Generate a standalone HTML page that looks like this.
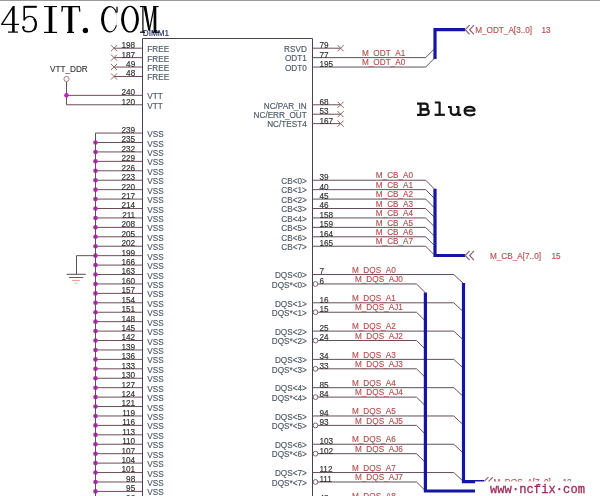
<!DOCTYPE html>
<html><head><meta charset="utf-8"><style>
html,body{margin:0;padding:0;background:#fff;}
body{width:600px;height:496px;overflow:hidden;position:relative;}
svg{position:absolute;left:0;top:0;font-family:"Liberation Sans",sans-serif;will-change:transform;}
.wmt{position:absolute;left:490px;top:483px;font-family:"Liberation Mono",monospace;font-weight:normal;font-size:12.1px;line-height:14px;color:#a02c5c;-webkit-text-stroke:0.3px #a02c5c;letter-spacing:0.05px;}
</style></head><body>
<svg width="600" height="496" viewBox="0 0 600 496">
<rect x="0" y="0" width="600" height="1" fill="#9a9a9a"/>
<line x1="114.00" y1="48.20" x2="142.50" y2="48.20" stroke="#6e4c5a" stroke-width="1"/>
<line x1="110.90" y1="45.10" x2="117.10" y2="51.30" stroke="#8a6868" stroke-width="1"/>
<line x1="110.90" y1="51.30" x2="117.10" y2="45.10" stroke="#8a6868" stroke-width="1"/>
<text x="135.20" y="48.10" fill="#303030" stroke="#303030" stroke-width="0.15" font-size="8.2" text-anchor="end" >198</text>
<text x="147.30" y="52.20" fill="#4e5866" stroke="#4e5866" stroke-width="0.15" font-size="8.2" text-anchor="start" >FREE</text>
<line x1="114.00" y1="57.63" x2="142.50" y2="57.63" stroke="#6e4c5a" stroke-width="1"/>
<line x1="110.90" y1="54.53" x2="117.10" y2="60.73" stroke="#8a6868" stroke-width="1"/>
<line x1="110.90" y1="60.73" x2="117.10" y2="54.53" stroke="#8a6868" stroke-width="1"/>
<text x="135.20" y="57.53" fill="#303030" stroke="#303030" stroke-width="0.15" font-size="8.2" text-anchor="end" >187</text>
<text x="147.30" y="61.63" fill="#4e5866" stroke="#4e5866" stroke-width="0.15" font-size="8.2" text-anchor="start" >FREE</text>
<line x1="114.00" y1="67.06" x2="142.50" y2="67.06" stroke="#6e4c5a" stroke-width="1"/>
<line x1="110.90" y1="63.96" x2="117.10" y2="70.16" stroke="#8a6868" stroke-width="1"/>
<line x1="110.90" y1="70.16" x2="117.10" y2="63.96" stroke="#8a6868" stroke-width="1"/>
<text x="135.20" y="66.96" fill="#303030" stroke="#303030" stroke-width="0.15" font-size="8.2" text-anchor="end" >49</text>
<text x="147.30" y="71.06" fill="#4e5866" stroke="#4e5866" stroke-width="0.15" font-size="8.2" text-anchor="start" >FREE</text>
<line x1="114.00" y1="76.49" x2="142.50" y2="76.49" stroke="#6e4c5a" stroke-width="1"/>
<line x1="110.90" y1="73.39" x2="117.10" y2="79.59" stroke="#8a6868" stroke-width="1"/>
<line x1="110.90" y1="79.59" x2="117.10" y2="73.39" stroke="#8a6868" stroke-width="1"/>
<text x="135.20" y="76.39" fill="#303030" stroke="#303030" stroke-width="0.15" font-size="8.2" text-anchor="end" >48</text>
<text x="147.30" y="80.49" fill="#4e5866" stroke="#4e5866" stroke-width="0.15" font-size="8.2" text-anchor="start" >FREE</text>
<line x1="66.50" y1="95.35" x2="142.50" y2="95.35" stroke="#6e4c5a" stroke-width="1"/>
<text x="135.20" y="95.25" fill="#303030" stroke="#303030" stroke-width="0.15" font-size="8.2" text-anchor="end" >240</text>
<text x="147.30" y="99.35" fill="#4e5866" stroke="#4e5866" stroke-width="0.15" font-size="8.2" text-anchor="start" >VTT</text>
<line x1="66.50" y1="104.78" x2="142.50" y2="104.78" stroke="#6e4c5a" stroke-width="1"/>
<text x="135.20" y="104.68" fill="#303030" stroke="#303030" stroke-width="0.15" font-size="8.2" text-anchor="end" >120</text>
<text x="147.30" y="108.78" fill="#4e5866" stroke="#4e5866" stroke-width="0.15" font-size="8.2" text-anchor="start" >VTT</text>
<line x1="95.50" y1="133.07" x2="142.50" y2="133.07" stroke="#6e4c5a" stroke-width="1"/>
<text x="135.20" y="132.97" fill="#303030" stroke="#303030" stroke-width="0.15" font-size="8.2" text-anchor="end" >239</text>
<text x="147.30" y="137.07" fill="#4e5866" stroke="#4e5866" stroke-width="0.15" font-size="8.2" text-anchor="start" >VSS</text>
<line x1="95.50" y1="142.50" x2="142.50" y2="142.50" stroke="#6e4c5a" stroke-width="1"/>
<circle cx="95.50" cy="142.50" r="2.3" fill="#c020c4"/>
<text x="135.20" y="142.40" fill="#303030" stroke="#303030" stroke-width="0.15" font-size="8.2" text-anchor="end" >235</text>
<text x="147.30" y="146.50" fill="#4e5866" stroke="#4e5866" stroke-width="0.15" font-size="8.2" text-anchor="start" >VSS</text>
<line x1="95.50" y1="151.93" x2="142.50" y2="151.93" stroke="#6e4c5a" stroke-width="1"/>
<circle cx="95.50" cy="151.93" r="2.3" fill="#c020c4"/>
<text x="135.20" y="151.83" fill="#303030" stroke="#303030" stroke-width="0.15" font-size="8.2" text-anchor="end" >232</text>
<text x="147.30" y="155.93" fill="#4e5866" stroke="#4e5866" stroke-width="0.15" font-size="8.2" text-anchor="start" >VSS</text>
<line x1="95.50" y1="161.36" x2="142.50" y2="161.36" stroke="#6e4c5a" stroke-width="1"/>
<circle cx="95.50" cy="161.36" r="2.3" fill="#c020c4"/>
<text x="135.20" y="161.26" fill="#303030" stroke="#303030" stroke-width="0.15" font-size="8.2" text-anchor="end" >229</text>
<text x="147.30" y="165.36" fill="#4e5866" stroke="#4e5866" stroke-width="0.15" font-size="8.2" text-anchor="start" >VSS</text>
<line x1="95.50" y1="170.79" x2="142.50" y2="170.79" stroke="#6e4c5a" stroke-width="1"/>
<circle cx="95.50" cy="170.79" r="2.3" fill="#c020c4"/>
<text x="135.20" y="170.69" fill="#303030" stroke="#303030" stroke-width="0.15" font-size="8.2" text-anchor="end" >226</text>
<text x="147.30" y="174.79" fill="#4e5866" stroke="#4e5866" stroke-width="0.15" font-size="8.2" text-anchor="start" >VSS</text>
<line x1="95.50" y1="180.22" x2="142.50" y2="180.22" stroke="#6e4c5a" stroke-width="1"/>
<circle cx="95.50" cy="180.22" r="2.3" fill="#c020c4"/>
<text x="135.20" y="180.12" fill="#303030" stroke="#303030" stroke-width="0.15" font-size="8.2" text-anchor="end" >223</text>
<text x="147.30" y="184.22" fill="#4e5866" stroke="#4e5866" stroke-width="0.15" font-size="8.2" text-anchor="start" >VSS</text>
<line x1="95.50" y1="189.65" x2="142.50" y2="189.65" stroke="#6e4c5a" stroke-width="1"/>
<circle cx="95.50" cy="189.65" r="2.3" fill="#c020c4"/>
<text x="135.20" y="189.55" fill="#303030" stroke="#303030" stroke-width="0.15" font-size="8.2" text-anchor="end" >220</text>
<text x="147.30" y="193.65" fill="#4e5866" stroke="#4e5866" stroke-width="0.15" font-size="8.2" text-anchor="start" >VSS</text>
<line x1="95.50" y1="199.08" x2="142.50" y2="199.08" stroke="#6e4c5a" stroke-width="1"/>
<circle cx="95.50" cy="199.08" r="2.3" fill="#c020c4"/>
<text x="135.20" y="198.98" fill="#303030" stroke="#303030" stroke-width="0.15" font-size="8.2" text-anchor="end" >217</text>
<text x="147.30" y="203.08" fill="#4e5866" stroke="#4e5866" stroke-width="0.15" font-size="8.2" text-anchor="start" >VSS</text>
<line x1="95.50" y1="208.51" x2="142.50" y2="208.51" stroke="#6e4c5a" stroke-width="1"/>
<circle cx="95.50" cy="208.51" r="2.3" fill="#c020c4"/>
<text x="135.20" y="208.41" fill="#303030" stroke="#303030" stroke-width="0.15" font-size="8.2" text-anchor="end" >214</text>
<text x="147.30" y="212.51" fill="#4e5866" stroke="#4e5866" stroke-width="0.15" font-size="8.2" text-anchor="start" >VSS</text>
<line x1="95.50" y1="217.94" x2="142.50" y2="217.94" stroke="#6e4c5a" stroke-width="1"/>
<circle cx="95.50" cy="217.94" r="2.3" fill="#c020c4"/>
<text x="135.20" y="217.84" fill="#303030" stroke="#303030" stroke-width="0.15" font-size="8.2" text-anchor="end" >211</text>
<text x="147.30" y="221.94" fill="#4e5866" stroke="#4e5866" stroke-width="0.15" font-size="8.2" text-anchor="start" >VSS</text>
<line x1="95.50" y1="227.37" x2="142.50" y2="227.37" stroke="#6e4c5a" stroke-width="1"/>
<circle cx="95.50" cy="227.37" r="2.3" fill="#c020c4"/>
<text x="135.20" y="227.27" fill="#303030" stroke="#303030" stroke-width="0.15" font-size="8.2" text-anchor="end" >208</text>
<text x="147.30" y="231.37" fill="#4e5866" stroke="#4e5866" stroke-width="0.15" font-size="8.2" text-anchor="start" >VSS</text>
<line x1="95.50" y1="236.80" x2="142.50" y2="236.80" stroke="#6e4c5a" stroke-width="1"/>
<circle cx="95.50" cy="236.80" r="2.3" fill="#c020c4"/>
<text x="135.20" y="236.70" fill="#303030" stroke="#303030" stroke-width="0.15" font-size="8.2" text-anchor="end" >205</text>
<text x="147.30" y="240.80" fill="#4e5866" stroke="#4e5866" stroke-width="0.15" font-size="8.2" text-anchor="start" >VSS</text>
<line x1="95.50" y1="246.23" x2="142.50" y2="246.23" stroke="#6e4c5a" stroke-width="1"/>
<circle cx="95.50" cy="246.23" r="2.3" fill="#c020c4"/>
<text x="135.20" y="246.13" fill="#303030" stroke="#303030" stroke-width="0.15" font-size="8.2" text-anchor="end" >202</text>
<text x="147.30" y="250.23" fill="#4e5866" stroke="#4e5866" stroke-width="0.15" font-size="8.2" text-anchor="start" >VSS</text>
<line x1="95.50" y1="255.66" x2="142.50" y2="255.66" stroke="#6e4c5a" stroke-width="1"/>
<circle cx="95.50" cy="255.66" r="2.3" fill="#c020c4"/>
<text x="135.20" y="255.56" fill="#303030" stroke="#303030" stroke-width="0.15" font-size="8.2" text-anchor="end" >199</text>
<text x="147.30" y="259.66" fill="#4e5866" stroke="#4e5866" stroke-width="0.15" font-size="8.2" text-anchor="start" >VSS</text>
<line x1="95.50" y1="265.09" x2="142.50" y2="265.09" stroke="#6e4c5a" stroke-width="1"/>
<circle cx="95.50" cy="265.09" r="2.3" fill="#c020c4"/>
<text x="135.20" y="264.99" fill="#303030" stroke="#303030" stroke-width="0.15" font-size="8.2" text-anchor="end" >166</text>
<text x="147.30" y="269.09" fill="#4e5866" stroke="#4e5866" stroke-width="0.15" font-size="8.2" text-anchor="start" >VSS</text>
<line x1="95.50" y1="274.52" x2="142.50" y2="274.52" stroke="#6e4c5a" stroke-width="1"/>
<circle cx="95.50" cy="274.52" r="2.3" fill="#c020c4"/>
<text x="135.20" y="274.42" fill="#303030" stroke="#303030" stroke-width="0.15" font-size="8.2" text-anchor="end" >163</text>
<text x="147.30" y="278.52" fill="#4e5866" stroke="#4e5866" stroke-width="0.15" font-size="8.2" text-anchor="start" >VSS</text>
<line x1="95.50" y1="283.95" x2="142.50" y2="283.95" stroke="#6e4c5a" stroke-width="1"/>
<circle cx="95.50" cy="283.95" r="2.3" fill="#c020c4"/>
<text x="135.20" y="283.85" fill="#303030" stroke="#303030" stroke-width="0.15" font-size="8.2" text-anchor="end" >160</text>
<text x="147.30" y="287.95" fill="#4e5866" stroke="#4e5866" stroke-width="0.15" font-size="8.2" text-anchor="start" >VSS</text>
<line x1="95.50" y1="293.38" x2="142.50" y2="293.38" stroke="#6e4c5a" stroke-width="1"/>
<circle cx="95.50" cy="293.38" r="2.3" fill="#c020c4"/>
<text x="135.20" y="293.28" fill="#303030" stroke="#303030" stroke-width="0.15" font-size="8.2" text-anchor="end" >157</text>
<text x="147.30" y="297.38" fill="#4e5866" stroke="#4e5866" stroke-width="0.15" font-size="8.2" text-anchor="start" >VSS</text>
<line x1="95.50" y1="302.81" x2="142.50" y2="302.81" stroke="#6e4c5a" stroke-width="1"/>
<circle cx="95.50" cy="302.81" r="2.3" fill="#c020c4"/>
<text x="135.20" y="302.71" fill="#303030" stroke="#303030" stroke-width="0.15" font-size="8.2" text-anchor="end" >154</text>
<text x="147.30" y="306.81" fill="#4e5866" stroke="#4e5866" stroke-width="0.15" font-size="8.2" text-anchor="start" >VSS</text>
<line x1="95.50" y1="312.24" x2="142.50" y2="312.24" stroke="#6e4c5a" stroke-width="1"/>
<circle cx="95.50" cy="312.24" r="2.3" fill="#c020c4"/>
<text x="135.20" y="312.14" fill="#303030" stroke="#303030" stroke-width="0.15" font-size="8.2" text-anchor="end" >151</text>
<text x="147.30" y="316.24" fill="#4e5866" stroke="#4e5866" stroke-width="0.15" font-size="8.2" text-anchor="start" >VSS</text>
<line x1="95.50" y1="321.67" x2="142.50" y2="321.67" stroke="#6e4c5a" stroke-width="1"/>
<circle cx="95.50" cy="321.67" r="2.3" fill="#c020c4"/>
<text x="135.20" y="321.57" fill="#303030" stroke="#303030" stroke-width="0.15" font-size="8.2" text-anchor="end" >148</text>
<text x="147.30" y="325.67" fill="#4e5866" stroke="#4e5866" stroke-width="0.15" font-size="8.2" text-anchor="start" >VSS</text>
<line x1="95.50" y1="331.10" x2="142.50" y2="331.10" stroke="#6e4c5a" stroke-width="1"/>
<circle cx="95.50" cy="331.10" r="2.3" fill="#c020c4"/>
<text x="135.20" y="331.00" fill="#303030" stroke="#303030" stroke-width="0.15" font-size="8.2" text-anchor="end" >145</text>
<text x="147.30" y="335.10" fill="#4e5866" stroke="#4e5866" stroke-width="0.15" font-size="8.2" text-anchor="start" >VSS</text>
<line x1="95.50" y1="340.53" x2="142.50" y2="340.53" stroke="#6e4c5a" stroke-width="1"/>
<circle cx="95.50" cy="340.53" r="2.3" fill="#c020c4"/>
<text x="135.20" y="340.43" fill="#303030" stroke="#303030" stroke-width="0.15" font-size="8.2" text-anchor="end" >142</text>
<text x="147.30" y="344.53" fill="#4e5866" stroke="#4e5866" stroke-width="0.15" font-size="8.2" text-anchor="start" >VSS</text>
<line x1="95.50" y1="349.96" x2="142.50" y2="349.96" stroke="#6e4c5a" stroke-width="1"/>
<circle cx="95.50" cy="349.96" r="2.3" fill="#c020c4"/>
<text x="135.20" y="349.86" fill="#303030" stroke="#303030" stroke-width="0.15" font-size="8.2" text-anchor="end" >139</text>
<text x="147.30" y="353.96" fill="#4e5866" stroke="#4e5866" stroke-width="0.15" font-size="8.2" text-anchor="start" >VSS</text>
<line x1="95.50" y1="359.39" x2="142.50" y2="359.39" stroke="#6e4c5a" stroke-width="1"/>
<circle cx="95.50" cy="359.39" r="2.3" fill="#c020c4"/>
<text x="135.20" y="359.29" fill="#303030" stroke="#303030" stroke-width="0.15" font-size="8.2" text-anchor="end" >136</text>
<text x="147.30" y="363.39" fill="#4e5866" stroke="#4e5866" stroke-width="0.15" font-size="8.2" text-anchor="start" >VSS</text>
<line x1="95.50" y1="368.82" x2="142.50" y2="368.82" stroke="#6e4c5a" stroke-width="1"/>
<circle cx="95.50" cy="368.82" r="2.3" fill="#c020c4"/>
<text x="135.20" y="368.72" fill="#303030" stroke="#303030" stroke-width="0.15" font-size="8.2" text-anchor="end" >133</text>
<text x="147.30" y="372.82" fill="#4e5866" stroke="#4e5866" stroke-width="0.15" font-size="8.2" text-anchor="start" >VSS</text>
<line x1="95.50" y1="378.25" x2="142.50" y2="378.25" stroke="#6e4c5a" stroke-width="1"/>
<circle cx="95.50" cy="378.25" r="2.3" fill="#c020c4"/>
<text x="135.20" y="378.15" fill="#303030" stroke="#303030" stroke-width="0.15" font-size="8.2" text-anchor="end" >130</text>
<text x="147.30" y="382.25" fill="#4e5866" stroke="#4e5866" stroke-width="0.15" font-size="8.2" text-anchor="start" >VSS</text>
<line x1="95.50" y1="387.68" x2="142.50" y2="387.68" stroke="#6e4c5a" stroke-width="1"/>
<circle cx="95.50" cy="387.68" r="2.3" fill="#c020c4"/>
<text x="135.20" y="387.58" fill="#303030" stroke="#303030" stroke-width="0.15" font-size="8.2" text-anchor="end" >127</text>
<text x="147.30" y="391.68" fill="#4e5866" stroke="#4e5866" stroke-width="0.15" font-size="8.2" text-anchor="start" >VSS</text>
<line x1="95.50" y1="397.11" x2="142.50" y2="397.11" stroke="#6e4c5a" stroke-width="1"/>
<circle cx="95.50" cy="397.11" r="2.3" fill="#c020c4"/>
<text x="135.20" y="397.01" fill="#303030" stroke="#303030" stroke-width="0.15" font-size="8.2" text-anchor="end" >124</text>
<text x="147.30" y="401.11" fill="#4e5866" stroke="#4e5866" stroke-width="0.15" font-size="8.2" text-anchor="start" >VSS</text>
<line x1="95.50" y1="406.54" x2="142.50" y2="406.54" stroke="#6e4c5a" stroke-width="1"/>
<circle cx="95.50" cy="406.54" r="2.3" fill="#c020c4"/>
<text x="135.20" y="406.44" fill="#303030" stroke="#303030" stroke-width="0.15" font-size="8.2" text-anchor="end" >121</text>
<text x="147.30" y="410.54" fill="#4e5866" stroke="#4e5866" stroke-width="0.15" font-size="8.2" text-anchor="start" >VSS</text>
<line x1="95.50" y1="415.97" x2="142.50" y2="415.97" stroke="#6e4c5a" stroke-width="1"/>
<circle cx="95.50" cy="415.97" r="2.3" fill="#c020c4"/>
<text x="135.20" y="415.87" fill="#303030" stroke="#303030" stroke-width="0.15" font-size="8.2" text-anchor="end" >119</text>
<text x="147.30" y="419.97" fill="#4e5866" stroke="#4e5866" stroke-width="0.15" font-size="8.2" text-anchor="start" >VSS</text>
<line x1="95.50" y1="425.40" x2="142.50" y2="425.40" stroke="#6e4c5a" stroke-width="1"/>
<circle cx="95.50" cy="425.40" r="2.3" fill="#c020c4"/>
<text x="135.20" y="425.30" fill="#303030" stroke="#303030" stroke-width="0.15" font-size="8.2" text-anchor="end" >116</text>
<text x="147.30" y="429.40" fill="#4e5866" stroke="#4e5866" stroke-width="0.15" font-size="8.2" text-anchor="start" >VSS</text>
<line x1="95.50" y1="434.83" x2="142.50" y2="434.83" stroke="#6e4c5a" stroke-width="1"/>
<circle cx="95.50" cy="434.83" r="2.3" fill="#c020c4"/>
<text x="135.20" y="434.73" fill="#303030" stroke="#303030" stroke-width="0.15" font-size="8.2" text-anchor="end" >113</text>
<text x="147.30" y="438.83" fill="#4e5866" stroke="#4e5866" stroke-width="0.15" font-size="8.2" text-anchor="start" >VSS</text>
<line x1="95.50" y1="444.26" x2="142.50" y2="444.26" stroke="#6e4c5a" stroke-width="1"/>
<circle cx="95.50" cy="444.26" r="2.3" fill="#c020c4"/>
<text x="135.20" y="444.16" fill="#303030" stroke="#303030" stroke-width="0.15" font-size="8.2" text-anchor="end" >110</text>
<text x="147.30" y="448.26" fill="#4e5866" stroke="#4e5866" stroke-width="0.15" font-size="8.2" text-anchor="start" >VSS</text>
<line x1="95.50" y1="453.69" x2="142.50" y2="453.69" stroke="#6e4c5a" stroke-width="1"/>
<circle cx="95.50" cy="453.69" r="2.3" fill="#c020c4"/>
<text x="135.20" y="453.59" fill="#303030" stroke="#303030" stroke-width="0.15" font-size="8.2" text-anchor="end" >107</text>
<text x="147.30" y="457.69" fill="#4e5866" stroke="#4e5866" stroke-width="0.15" font-size="8.2" text-anchor="start" >VSS</text>
<line x1="95.50" y1="463.12" x2="142.50" y2="463.12" stroke="#6e4c5a" stroke-width="1"/>
<circle cx="95.50" cy="463.12" r="2.3" fill="#c020c4"/>
<text x="135.20" y="463.02" fill="#303030" stroke="#303030" stroke-width="0.15" font-size="8.2" text-anchor="end" >104</text>
<text x="147.30" y="467.12" fill="#4e5866" stroke="#4e5866" stroke-width="0.15" font-size="8.2" text-anchor="start" >VSS</text>
<line x1="95.50" y1="472.55" x2="142.50" y2="472.55" stroke="#6e4c5a" stroke-width="1"/>
<circle cx="95.50" cy="472.55" r="2.3" fill="#c020c4"/>
<text x="135.20" y="472.45" fill="#303030" stroke="#303030" stroke-width="0.15" font-size="8.2" text-anchor="end" >101</text>
<text x="147.30" y="476.55" fill="#4e5866" stroke="#4e5866" stroke-width="0.15" font-size="8.2" text-anchor="start" >VSS</text>
<line x1="95.50" y1="481.98" x2="142.50" y2="481.98" stroke="#6e4c5a" stroke-width="1"/>
<circle cx="95.50" cy="481.98" r="2.3" fill="#c020c4"/>
<text x="135.20" y="481.88" fill="#303030" stroke="#303030" stroke-width="0.15" font-size="8.2" text-anchor="end" >98</text>
<text x="147.30" y="485.98" fill="#4e5866" stroke="#4e5866" stroke-width="0.15" font-size="8.2" text-anchor="start" >VSS</text>
<line x1="95.50" y1="491.41" x2="142.50" y2="491.41" stroke="#6e4c5a" stroke-width="1"/>
<circle cx="95.50" cy="491.41" r="2.3" fill="#c020c4"/>
<text x="135.20" y="491.31" fill="#303030" stroke="#303030" stroke-width="0.15" font-size="8.2" text-anchor="end" >95</text>
<text x="147.30" y="495.41" fill="#4e5866" stroke="#4e5866" stroke-width="0.15" font-size="8.2" text-anchor="start" >VSS</text>
<line x1="95.50" y1="500.84" x2="142.50" y2="500.84" stroke="#6e4c5a" stroke-width="1"/>
<circle cx="95.50" cy="500.84" r="2.3" fill="#c020c4"/>
<text x="135.20" y="500.74" fill="#303030" stroke="#303030" stroke-width="0.15" font-size="8.2" text-anchor="end" >92</text>
<text x="147.30" y="504.84" fill="#4e5866" stroke="#4e5866" stroke-width="0.15" font-size="8.2" text-anchor="start" >VSS</text>
<line x1="95.50" y1="133.07" x2="95.50" y2="500.00" stroke="#644c5a" stroke-width="1"/>
<polyline points="95.50,255.66 76.50,255.66 76.50,274.30" fill="none" stroke="#644c5a" stroke-width="1" stroke-linejoin="miter"/>
<line x1="66.60" y1="274.30" x2="85.80" y2="274.30" stroke="#5a4a4a" stroke-width="1"/>
<line x1="69.00" y1="277.50" x2="83.30" y2="277.50" stroke="#6a5a5a" stroke-width="1"/>
<line x1="72.00" y1="280.40" x2="79.80" y2="280.40" stroke="#d0a080" stroke-width="1"/>
<line x1="74.50" y1="283.20" x2="77.50" y2="283.20" stroke="#e0c0a8" stroke-width="1"/>
<line x1="66.50" y1="81.70" x2="66.50" y2="104.78" stroke="#644c5a" stroke-width="1"/>
<circle cx="66.50" cy="95.35" r="2.3" fill="#c020c4"/>
<circle cx="66.5" cy="79.0" r="2.6" fill="none" stroke="#a07070" stroke-width="0.9"/>
<text x="50.00" y="72.40" fill="#3c3c3c" stroke="#3c3c3c" stroke-width="0.15" font-size="8.2" text-anchor="start" >VTT_DDR</text>
<path d="M142.5,500 V38.5 H312.5 V500" fill="none" stroke="#46424e" stroke-width="1"/>
<text x="142.80" y="36.40" fill="#2a3070" stroke="#2a3070" stroke-width="0.15" font-size="8.2" text-anchor="start" >DIMM1</text>
<line x1="312.50" y1="48.20" x2="340.60" y2="48.20" stroke="#6e4c5a" stroke-width="1"/>
<line x1="337.50" y1="45.10" x2="343.70" y2="51.30" stroke="#8a6868" stroke-width="1"/>
<line x1="337.50" y1="51.30" x2="343.70" y2="45.10" stroke="#8a6868" stroke-width="1"/>
<text x="319.40" y="48.10" fill="#303030" stroke="#303030" stroke-width="0.15" font-size="8.2" text-anchor="start" >79</text>
<text x="306.80" y="52.00" fill="#4e5866" stroke="#4e5866" stroke-width="0.15" font-size="8.2" text-anchor="end" >RSVD</text>
<polyline points="312.50,57.63 425.70,57.63 434.20,49.03" fill="none" stroke="#644c5a" stroke-width="1" stroke-linejoin="miter"/>
<text x="319.40" y="57.53" fill="#303030" stroke="#303030" stroke-width="0.15" font-size="8.2" text-anchor="start" >77</text>
<text x="306.80" y="61.43" fill="#4e5866" stroke="#4e5866" stroke-width="0.15" font-size="8.2" text-anchor="end" >ODT1</text>
<text x="362.00" y="55.83" fill="#b45050" stroke="#b45050" stroke-width="0.15" font-size="8.2" text-anchor="start" >M_ODT_A1</text>
<polyline points="312.50,67.06 425.70,67.06 434.20,58.46" fill="none" stroke="#644c5a" stroke-width="1" stroke-linejoin="miter"/>
<text x="319.40" y="66.96" fill="#303030" stroke="#303030" stroke-width="0.15" font-size="8.2" text-anchor="start" >195</text>
<text x="306.80" y="70.86" fill="#4e5866" stroke="#4e5866" stroke-width="0.15" font-size="8.2" text-anchor="end" >ODT0</text>
<text x="362.00" y="65.26" fill="#b45050" stroke="#b45050" stroke-width="0.15" font-size="8.2" text-anchor="start" >M_ODT_A0</text>
<line x1="312.50" y1="104.78" x2="340.60" y2="104.78" stroke="#6e4c5a" stroke-width="1"/>
<line x1="337.50" y1="101.68" x2="343.70" y2="107.88" stroke="#8a6868" stroke-width="1"/>
<line x1="337.50" y1="107.88" x2="343.70" y2="101.68" stroke="#8a6868" stroke-width="1"/>
<text x="319.40" y="104.68" fill="#303030" stroke="#303030" stroke-width="0.15" font-size="8.2" text-anchor="start" >68</text>
<text x="306.80" y="108.58" fill="#4e5866" stroke="#4e5866" stroke-width="0.15" font-size="8.2" text-anchor="end" >NC/PAR_IN</text>
<line x1="312.50" y1="114.21" x2="340.60" y2="114.21" stroke="#6e4c5a" stroke-width="1"/>
<line x1="337.50" y1="111.11" x2="343.70" y2="117.31" stroke="#8a6868" stroke-width="1"/>
<line x1="337.50" y1="117.31" x2="343.70" y2="111.11" stroke="#8a6868" stroke-width="1"/>
<text x="319.40" y="114.11" fill="#303030" stroke="#303030" stroke-width="0.15" font-size="8.2" text-anchor="start" >53</text>
<text x="306.80" y="118.01" fill="#4e5866" stroke="#4e5866" stroke-width="0.15" font-size="8.2" text-anchor="end" >NC/ERR_OUT</text>
<line x1="312.50" y1="123.64" x2="340.60" y2="123.64" stroke="#6e4c5a" stroke-width="1"/>
<line x1="337.50" y1="120.54" x2="343.70" y2="126.74" stroke="#8a6868" stroke-width="1"/>
<line x1="337.50" y1="126.74" x2="343.70" y2="120.54" stroke="#8a6868" stroke-width="1"/>
<text x="319.40" y="123.54" fill="#303030" stroke="#303030" stroke-width="0.15" font-size="8.2" text-anchor="start" >167</text>
<text x="306.80" y="127.44" fill="#4e5866" stroke="#4e5866" stroke-width="0.15" font-size="8.2" text-anchor="end" >NC/TEST4</text>
<polyline points="312.50,180.22 425.70,180.22 434.20,188.82" fill="none" stroke="#644c5a" stroke-width="1" stroke-linejoin="miter"/>
<text x="319.40" y="180.12" fill="#303030" stroke="#303030" stroke-width="0.15" font-size="8.2" text-anchor="start" >39</text>
<text x="306.80" y="184.02" fill="#4e5866" stroke="#4e5866" stroke-width="0.15" font-size="8.2" text-anchor="end" >CB&lt;0&gt;</text>
<text x="375.80" y="178.42" fill="#b45050" stroke="#b45050" stroke-width="0.15" font-size="8.2" text-anchor="start" >M_CB_A0</text>
<polyline points="312.50,189.65 425.70,189.65 434.20,198.25" fill="none" stroke="#644c5a" stroke-width="1" stroke-linejoin="miter"/>
<text x="319.40" y="189.55" fill="#303030" stroke="#303030" stroke-width="0.15" font-size="8.2" text-anchor="start" >40</text>
<text x="306.80" y="193.45" fill="#4e5866" stroke="#4e5866" stroke-width="0.15" font-size="8.2" text-anchor="end" >CB&lt;1&gt;</text>
<text x="375.80" y="187.85" fill="#b45050" stroke="#b45050" stroke-width="0.15" font-size="8.2" text-anchor="start" >M_CB_A1</text>
<polyline points="312.50,199.08 425.70,199.08 434.20,207.68" fill="none" stroke="#644c5a" stroke-width="1" stroke-linejoin="miter"/>
<text x="319.40" y="198.98" fill="#303030" stroke="#303030" stroke-width="0.15" font-size="8.2" text-anchor="start" >45</text>
<text x="306.80" y="202.88" fill="#4e5866" stroke="#4e5866" stroke-width="0.15" font-size="8.2" text-anchor="end" >CB&lt;2&gt;</text>
<text x="375.80" y="197.28" fill="#b45050" stroke="#b45050" stroke-width="0.15" font-size="8.2" text-anchor="start" >M_CB_A2</text>
<polyline points="312.50,208.51 425.70,208.51 434.20,217.11" fill="none" stroke="#644c5a" stroke-width="1" stroke-linejoin="miter"/>
<text x="319.40" y="208.41" fill="#303030" stroke="#303030" stroke-width="0.15" font-size="8.2" text-anchor="start" >46</text>
<text x="306.80" y="212.31" fill="#4e5866" stroke="#4e5866" stroke-width="0.15" font-size="8.2" text-anchor="end" >CB&lt;3&gt;</text>
<text x="375.80" y="206.71" fill="#b45050" stroke="#b45050" stroke-width="0.15" font-size="8.2" text-anchor="start" >M_CB_A3</text>
<polyline points="312.50,217.94 425.70,217.94 434.20,226.54" fill="none" stroke="#644c5a" stroke-width="1" stroke-linejoin="miter"/>
<text x="319.40" y="217.84" fill="#303030" stroke="#303030" stroke-width="0.15" font-size="8.2" text-anchor="start" >158</text>
<text x="306.80" y="221.74" fill="#4e5866" stroke="#4e5866" stroke-width="0.15" font-size="8.2" text-anchor="end" >CB&lt;4&gt;</text>
<text x="375.80" y="216.14" fill="#b45050" stroke="#b45050" stroke-width="0.15" font-size="8.2" text-anchor="start" >M_CB_A4</text>
<polyline points="312.50,227.37 425.70,227.37 434.20,235.97" fill="none" stroke="#644c5a" stroke-width="1" stroke-linejoin="miter"/>
<text x="319.40" y="227.27" fill="#303030" stroke="#303030" stroke-width="0.15" font-size="8.2" text-anchor="start" >159</text>
<text x="306.80" y="231.17" fill="#4e5866" stroke="#4e5866" stroke-width="0.15" font-size="8.2" text-anchor="end" >CB&lt;5&gt;</text>
<text x="375.80" y="225.57" fill="#b45050" stroke="#b45050" stroke-width="0.15" font-size="8.2" text-anchor="start" >M_CB_A5</text>
<polyline points="312.50,236.80 425.70,236.80 434.20,245.40" fill="none" stroke="#644c5a" stroke-width="1" stroke-linejoin="miter"/>
<text x="319.40" y="236.70" fill="#303030" stroke="#303030" stroke-width="0.15" font-size="8.2" text-anchor="start" >164</text>
<text x="306.80" y="240.60" fill="#4e5866" stroke="#4e5866" stroke-width="0.15" font-size="8.2" text-anchor="end" >CB&lt;6&gt;</text>
<text x="375.80" y="235.00" fill="#b45050" stroke="#b45050" stroke-width="0.15" font-size="8.2" text-anchor="start" >M_CB_A6</text>
<polyline points="312.50,246.23 425.70,246.23 434.20,254.83" fill="none" stroke="#644c5a" stroke-width="1" stroke-linejoin="miter"/>
<text x="319.40" y="246.13" fill="#303030" stroke="#303030" stroke-width="0.15" font-size="8.2" text-anchor="start" >165</text>
<text x="306.80" y="250.03" fill="#4e5866" stroke="#4e5866" stroke-width="0.15" font-size="8.2" text-anchor="end" >CB&lt;7&gt;</text>
<text x="375.80" y="244.43" fill="#b45050" stroke="#b45050" stroke-width="0.15" font-size="8.2" text-anchor="start" >M_CB_A7</text>
<polyline points="312.50,274.52 453.80,274.52 463.00,283.12" fill="none" stroke="#644c5a" stroke-width="1" stroke-linejoin="miter"/>
<text x="319.40" y="274.42" fill="#303030" stroke="#303030" stroke-width="0.15" font-size="8.2" text-anchor="start" >7</text>
<text x="306.80" y="278.32" fill="#4e5866" stroke="#4e5866" stroke-width="0.15" font-size="8.2" text-anchor="end" >DQS&lt;0&gt;</text>
<text x="352.00" y="272.72" fill="#b45050" stroke="#b45050" stroke-width="0.15" font-size="8.2" text-anchor="start" >M_DQS_A0</text>
<polyline points="317.90,283.95 416.50,283.95 425.20,292.55" fill="none" stroke="#644c5a" stroke-width="1" stroke-linejoin="miter"/>
<circle cx="315.50" cy="283.95" r="2.4" fill="none" stroke="#7a6068" stroke-width="1.0"/>
<text x="319.40" y="283.85" fill="#303030" stroke="#303030" stroke-width="0.15" font-size="8.2" text-anchor="start" >6</text>
<text x="306.80" y="287.75" fill="#4e5866" stroke="#4e5866" stroke-width="0.15" font-size="8.2" text-anchor="end" >DQS*&lt;0&gt;</text>
<text x="355.00" y="282.15" fill="#b45050" stroke="#b45050" stroke-width="0.15" font-size="8.2" text-anchor="start" >M_DQS_AJ0</text>
<polyline points="312.50,302.81 453.80,302.81 463.00,311.41" fill="none" stroke="#644c5a" stroke-width="1" stroke-linejoin="miter"/>
<text x="319.40" y="302.71" fill="#303030" stroke="#303030" stroke-width="0.15" font-size="8.2" text-anchor="start" >16</text>
<text x="306.80" y="306.61" fill="#4e5866" stroke="#4e5866" stroke-width="0.15" font-size="8.2" text-anchor="end" >DQS&lt;1&gt;</text>
<text x="352.00" y="301.01" fill="#b45050" stroke="#b45050" stroke-width="0.15" font-size="8.2" text-anchor="start" >M_DQS_A1</text>
<polyline points="317.90,312.24 416.50,312.24 425.20,320.84" fill="none" stroke="#644c5a" stroke-width="1" stroke-linejoin="miter"/>
<circle cx="315.50" cy="312.24" r="2.4" fill="none" stroke="#7a6068" stroke-width="1.0"/>
<text x="319.40" y="312.14" fill="#303030" stroke="#303030" stroke-width="0.15" font-size="8.2" text-anchor="start" >15</text>
<text x="306.80" y="316.04" fill="#4e5866" stroke="#4e5866" stroke-width="0.15" font-size="8.2" text-anchor="end" >DQS*&lt;1&gt;</text>
<text x="355.00" y="310.44" fill="#b45050" stroke="#b45050" stroke-width="0.15" font-size="8.2" text-anchor="start" >M_DQS_AJ1</text>
<polyline points="312.50,331.10 453.80,331.10 463.00,339.70" fill="none" stroke="#644c5a" stroke-width="1" stroke-linejoin="miter"/>
<text x="319.40" y="331.00" fill="#303030" stroke="#303030" stroke-width="0.15" font-size="8.2" text-anchor="start" >25</text>
<text x="306.80" y="334.90" fill="#4e5866" stroke="#4e5866" stroke-width="0.15" font-size="8.2" text-anchor="end" >DQS&lt;2&gt;</text>
<text x="352.00" y="329.30" fill="#b45050" stroke="#b45050" stroke-width="0.15" font-size="8.2" text-anchor="start" >M_DQS_A2</text>
<polyline points="317.90,340.53 416.50,340.53 425.20,349.13" fill="none" stroke="#644c5a" stroke-width="1" stroke-linejoin="miter"/>
<circle cx="315.50" cy="340.53" r="2.4" fill="none" stroke="#7a6068" stroke-width="1.0"/>
<text x="319.40" y="340.43" fill="#303030" stroke="#303030" stroke-width="0.15" font-size="8.2" text-anchor="start" >24</text>
<text x="306.80" y="344.33" fill="#4e5866" stroke="#4e5866" stroke-width="0.15" font-size="8.2" text-anchor="end" >DQS*&lt;2&gt;</text>
<text x="355.00" y="338.73" fill="#b45050" stroke="#b45050" stroke-width="0.15" font-size="8.2" text-anchor="start" >M_DQS_AJ2</text>
<polyline points="312.50,359.39 453.80,359.39 463.00,367.99" fill="none" stroke="#644c5a" stroke-width="1" stroke-linejoin="miter"/>
<text x="319.40" y="359.29" fill="#303030" stroke="#303030" stroke-width="0.15" font-size="8.2" text-anchor="start" >34</text>
<text x="306.80" y="363.19" fill="#4e5866" stroke="#4e5866" stroke-width="0.15" font-size="8.2" text-anchor="end" >DQS&lt;3&gt;</text>
<text x="352.00" y="357.59" fill="#b45050" stroke="#b45050" stroke-width="0.15" font-size="8.2" text-anchor="start" >M_DQS_A3</text>
<polyline points="317.90,368.82 416.50,368.82 425.20,377.42" fill="none" stroke="#644c5a" stroke-width="1" stroke-linejoin="miter"/>
<circle cx="315.50" cy="368.82" r="2.4" fill="none" stroke="#7a6068" stroke-width="1.0"/>
<text x="319.40" y="368.72" fill="#303030" stroke="#303030" stroke-width="0.15" font-size="8.2" text-anchor="start" >33</text>
<text x="306.80" y="372.62" fill="#4e5866" stroke="#4e5866" stroke-width="0.15" font-size="8.2" text-anchor="end" >DQS*&lt;3&gt;</text>
<text x="355.00" y="367.02" fill="#b45050" stroke="#b45050" stroke-width="0.15" font-size="8.2" text-anchor="start" >M_DQS_AJ3</text>
<polyline points="312.50,387.68 453.80,387.68 463.00,396.28" fill="none" stroke="#644c5a" stroke-width="1" stroke-linejoin="miter"/>
<text x="319.40" y="387.58" fill="#303030" stroke="#303030" stroke-width="0.15" font-size="8.2" text-anchor="start" >85</text>
<text x="306.80" y="391.48" fill="#4e5866" stroke="#4e5866" stroke-width="0.15" font-size="8.2" text-anchor="end" >DQS&lt;4&gt;</text>
<text x="352.00" y="385.88" fill="#b45050" stroke="#b45050" stroke-width="0.15" font-size="8.2" text-anchor="start" >M_DQS_A4</text>
<polyline points="317.90,397.11 416.50,397.11 425.20,405.71" fill="none" stroke="#644c5a" stroke-width="1" stroke-linejoin="miter"/>
<circle cx="315.50" cy="397.11" r="2.4" fill="none" stroke="#7a6068" stroke-width="1.0"/>
<text x="319.40" y="397.01" fill="#303030" stroke="#303030" stroke-width="0.15" font-size="8.2" text-anchor="start" >84</text>
<text x="306.80" y="400.91" fill="#4e5866" stroke="#4e5866" stroke-width="0.15" font-size="8.2" text-anchor="end" >DQS*&lt;4&gt;</text>
<text x="355.00" y="395.31" fill="#b45050" stroke="#b45050" stroke-width="0.15" font-size="8.2" text-anchor="start" >M_DQS_AJ4</text>
<polyline points="312.50,415.97 453.80,415.97 463.00,424.57" fill="none" stroke="#644c5a" stroke-width="1" stroke-linejoin="miter"/>
<text x="319.40" y="415.87" fill="#303030" stroke="#303030" stroke-width="0.15" font-size="8.2" text-anchor="start" >94</text>
<text x="306.80" y="419.77" fill="#4e5866" stroke="#4e5866" stroke-width="0.15" font-size="8.2" text-anchor="end" >DQS&lt;5&gt;</text>
<text x="352.00" y="414.17" fill="#b45050" stroke="#b45050" stroke-width="0.15" font-size="8.2" text-anchor="start" >M_DQS_A5</text>
<polyline points="317.90,425.40 416.50,425.40 425.20,434.00" fill="none" stroke="#644c5a" stroke-width="1" stroke-linejoin="miter"/>
<circle cx="315.50" cy="425.40" r="2.4" fill="none" stroke="#7a6068" stroke-width="1.0"/>
<text x="319.40" y="425.30" fill="#303030" stroke="#303030" stroke-width="0.15" font-size="8.2" text-anchor="start" >93</text>
<text x="306.80" y="429.20" fill="#4e5866" stroke="#4e5866" stroke-width="0.15" font-size="8.2" text-anchor="end" >DQS*&lt;5&gt;</text>
<text x="355.00" y="423.60" fill="#b45050" stroke="#b45050" stroke-width="0.15" font-size="8.2" text-anchor="start" >M_DQS_AJ5</text>
<polyline points="312.50,444.26 453.80,444.26 463.00,452.86" fill="none" stroke="#644c5a" stroke-width="1" stroke-linejoin="miter"/>
<text x="319.40" y="444.16" fill="#303030" stroke="#303030" stroke-width="0.15" font-size="8.2" text-anchor="start" >103</text>
<text x="306.80" y="448.06" fill="#4e5866" stroke="#4e5866" stroke-width="0.15" font-size="8.2" text-anchor="end" >DQS&lt;6&gt;</text>
<text x="352.00" y="442.46" fill="#b45050" stroke="#b45050" stroke-width="0.15" font-size="8.2" text-anchor="start" >M_DQS_A6</text>
<polyline points="317.90,453.69 416.50,453.69 425.20,462.29" fill="none" stroke="#644c5a" stroke-width="1" stroke-linejoin="miter"/>
<circle cx="315.50" cy="453.69" r="2.4" fill="none" stroke="#7a6068" stroke-width="1.0"/>
<text x="319.40" y="453.59" fill="#303030" stroke="#303030" stroke-width="0.15" font-size="8.2" text-anchor="start" >102</text>
<text x="306.80" y="457.49" fill="#4e5866" stroke="#4e5866" stroke-width="0.15" font-size="8.2" text-anchor="end" >DQS*&lt;6&gt;</text>
<text x="355.00" y="451.89" fill="#b45050" stroke="#b45050" stroke-width="0.15" font-size="8.2" text-anchor="start" >M_DQS_AJ6</text>
<polyline points="312.50,472.55 453.80,472.55 463.00,481.15" fill="none" stroke="#644c5a" stroke-width="1" stroke-linejoin="miter"/>
<text x="319.40" y="472.45" fill="#303030" stroke="#303030" stroke-width="0.15" font-size="8.2" text-anchor="start" >112</text>
<text x="306.80" y="476.35" fill="#4e5866" stroke="#4e5866" stroke-width="0.15" font-size="8.2" text-anchor="end" >DQS&lt;7&gt;</text>
<text x="352.00" y="470.75" fill="#b45050" stroke="#b45050" stroke-width="0.15" font-size="8.2" text-anchor="start" >M_DQS_A7</text>
<polyline points="317.90,481.98 416.50,481.98 425.20,490.58" fill="none" stroke="#644c5a" stroke-width="1" stroke-linejoin="miter"/>
<circle cx="315.50" cy="481.98" r="2.4" fill="none" stroke="#7a6068" stroke-width="1.0"/>
<text x="319.40" y="481.88" fill="#303030" stroke="#303030" stroke-width="0.15" font-size="8.2" text-anchor="start" >111</text>
<text x="306.80" y="485.78" fill="#4e5866" stroke="#4e5866" stroke-width="0.15" font-size="8.2" text-anchor="end" >DQS*&lt;7&gt;</text>
<text x="355.00" y="480.18" fill="#b45050" stroke="#b45050" stroke-width="0.15" font-size="8.2" text-anchor="start" >M_DQS_AJ7</text>
<polyline points="312.50,500.84 453.80,500.84 463.00,509.44" fill="none" stroke="#644c5a" stroke-width="1" stroke-linejoin="miter"/>
<text x="319.40" y="500.74" fill="#303030" stroke="#303030" stroke-width="0.15" font-size="8.2" text-anchor="start" >48</text>
<text x="306.80" y="504.64" fill="#4e5866" stroke="#4e5866" stroke-width="0.15" font-size="8.2" text-anchor="end" >DQS&lt;8&gt;</text>
<text x="352.00" y="499.04" fill="#b45050" stroke="#b45050" stroke-width="0.15" font-size="8.2" text-anchor="start" >M_DQS_A8</text>
<polyline points="435.00,59.00 435.00,29.70 465.00,29.70" fill="none" stroke="#1414a6" stroke-width="3.2" stroke-linejoin="miter"/>
<polyline points="435.00,188.82 435.00,255.50 465.00,255.50" fill="none" stroke="#1414a6" stroke-width="3.2" stroke-linejoin="miter"/>
<polyline points="463.50,283.12 463.50,481.70 484.00,481.70" fill="none" stroke="#1414a6" stroke-width="3.2" stroke-linejoin="miter"/>
<polyline points="425.40,292.55 425.40,491.00 476.00,491.00" fill="none" stroke="#1414a6" stroke-width="3.2" stroke-linejoin="miter"/>
<polyline points="469.60,25.10 465.20,29.70 469.60,34.30" fill="none" stroke="#8a6070" stroke-width="1.2" stroke-linejoin="miter"/>
<polyline points="474.00,25.10 469.60,29.70 474.00,34.30" fill="none" stroke="#8a6070" stroke-width="1.2" stroke-linejoin="miter"/>
<text x="475.20" y="32.60" fill="#b45050" stroke="#b45050" stroke-width="0.15" font-size="8.2" text-anchor="start" >M_ODT_A[3..0]</text>
<text x="541.50" y="32.60" fill="#b45050" stroke="#b45050" stroke-width="0.15" font-size="8.2" text-anchor="start" >13</text>
<polyline points="469.60,250.90 465.20,255.50 469.60,260.10" fill="none" stroke="#8a6070" stroke-width="1.2" stroke-linejoin="miter"/>
<polyline points="474.00,250.90 469.60,255.50 474.00,260.10" fill="none" stroke="#8a6070" stroke-width="1.2" stroke-linejoin="miter"/>
<text x="490.00" y="258.80" fill="#b45050" stroke="#b45050" stroke-width="0.15" font-size="8.2" text-anchor="start" >M_CB_A[7..0]</text>
<text x="551.50" y="258.80" fill="#b45050" stroke="#b45050" stroke-width="0.15" font-size="8.2" text-anchor="start" >15</text>
<polyline points="488.40,477.10 484.00,481.70 488.40,486.30" fill="none" stroke="#8a6070" stroke-width="1.2" stroke-linejoin="miter"/>
<polyline points="492.80,477.10 488.40,481.70 492.80,486.30" fill="none" stroke="#8a6070" stroke-width="1.2" stroke-linejoin="miter"/>
<text x="493.50" y="485.20" fill="#b45050" stroke="#b45050" stroke-width="0.15" font-size="8.2" text-anchor="start" >M_DQS_A[7..0]</text>
<text x="562.50" y="485.20" fill="#b45050" stroke="#b45050" stroke-width="0.15" font-size="8.2" text-anchor="start" >12</text>
<g aria-label="45IT.COM">
<line x1="13.4" y1="6.4" x2="1.7" y2="24.4" stroke="#000" stroke-width="1.4"/>
<rect x="1.2" y="23.8" width="17.80" height="1.20" fill="#000"/>
<polygon points="12.1,8.2 13.3,6.0 14.7,6.0 14.7,32.0 12.1,32.0" fill="#000"/>
<rect x="8.0" y="31.5" width="10.00" height="1.20" fill="#000"/>
<rect x="24.3" y="5.8" width="12.50" height="2.00" fill="#000"/>
<rect x="23.4" y="6.0" width="1.60" height="14.50" fill="#000"/>
<path d="M24.2,19.8 C25.8,17.2 27.6,16.4 29.6,16.4 C34.0,16.4 35.8,19.8 35.8,24.2 C35.8,29.4 32.8,31.8 28.6,31.8 C25.2,31.8 23.2,29.8 23.0,27.6" fill="none" stroke="#000" stroke-width="1.4"/>
<path d="M34.0,18.6 C35.6,20.6 35.9,22.6 35.9,24.4 C35.9,26.6 35.3,28.6 34.0,30.0" fill="none" stroke="#000" stroke-width="2.2"/>
<circle cx="23.5" cy="27.2" r="1.3" fill="#000"/>
<rect x="44.0" y="6.0" width="13.00" height="1.10" fill="#000"/>
<rect x="48.7" y="6.0" width="3.60" height="27.00" fill="#000"/>
<rect x="44.0" y="31.8" width="13.00" height="1.20" fill="#000"/>
<rect x="61.3" y="6.0" width="18.70" height="1.30" fill="#000"/>
<line x1="62.4" y1="7.0" x2="61.8" y2="11.7" stroke="#000" stroke-width="1.3"/>
<line x1="79.2" y1="7.0" x2="79.8" y2="11.7" stroke="#000" stroke-width="1.3"/>
<rect x="68.3" y="6.0" width="4.00" height="27.00" fill="#000"/>
<rect x="67.0" y="31.8" width="7.00" height="1.20" fill="#000"/>
<circle cx="85.4" cy="30.5" r="2.7" fill="#000"/>
<clipPath id="cc"><path d="M95,0 H125 V12.4 H116.2 V25.4 H125 V40 H95 Z"/></clipPath>
<path clip-path="url(#cc)" fill-rule="evenodd" fill="#000" d="M109.6,6.0 A8.6,13.2 0 1 0 109.6,32.4 A8.6,13.2 0 1 0 109.6,6.0 Z M110.4,7.2 A6.4,12.0 0 1 0 110.4,31.2 A6.4,12.0 0 1 0 110.4,7.2 Z"/>
<line x1="117.0" y1="6.8" x2="117.0" y2="12.4" stroke="#000" stroke-width="1.3"/>
<path fill-rule="evenodd" fill="#000" d="M130,5.8 A8.95,13.4 0 1 0 130,32.6 A8.95,13.4 0 1 0 130,5.8 Z M130,7.1 A6.0,12.1 0 1 0 130,31.3 A6.0,12.1 0 1 0 130,7.1 Z"/>
<rect x="140.0" y="6.0" width="5.30" height="1.10" fill="#000"/>
<rect x="142.3" y="6.0" width="1.20" height="26.00" fill="#000"/>
<polygon points="143.4,6.0 146.3,6.0 150.3,30.6 148.3,30.6" fill="#000"/>
<line x1="154.2" y1="6.5" x2="149.3" y2="30.6" stroke="#000" stroke-width="1.2"/>
<rect x="153.6" y="6.0" width="2.70" height="26.00" fill="#000"/>
<rect x="153.0" y="6.0" width="5.60" height="1.10" fill="#000"/>
<rect x="140.0" y="31.6" width="5.00" height="1.20" fill="#000"/>
<rect x="152.3" y="31.6" width="7.00" height="1.20" fill="#000"/>
</g>
<g aria-label="Blue">
<path d="M417.0,103.6 H425.0 C428.6,103.6 428.6,109.3 425.0,109.3 H420.6" fill="none" stroke="#141414" stroke-width="2.2" stroke-linejoin="round"/>
<path d="M420.6,109.3 H425.6 C429.8,109.3 429.8,114.8 425.6,114.8 H417.0" fill="none" stroke="#141414" stroke-width="2.2" stroke-linejoin="round"/>
<path d="M420.6,103.6 V114.8" fill="none" stroke="#141414" stroke-width="2.2" stroke-linejoin="round"/>
<path d="M434.8,102.5 H439.6 V114.8" fill="none" stroke="#141414" stroke-width="2.2" stroke-linejoin="round"/>
<path d="M434.6,114.8 H444.9" fill="none" stroke="#141414" stroke-width="2.2" stroke-linejoin="round"/>
<path d="M448.0,107.0 H450.8 V112.0 C450.8,116.0 457.8,115.8 458.4,111.6" fill="none" stroke="#141414" stroke-width="2.2" stroke-linejoin="round"/>
<path d="M456.0,107.0 H458.4 V114.8 H461.2" fill="none" stroke="#141414" stroke-width="2.2" stroke-linejoin="round"/>
<path d="M464.6,110.6 H474.6 C474.6,105.6 464.6,105.6 464.6,110.6 C464.6,116.4 472.0,116.2 475.0,113.6" fill="none" stroke="#141414" stroke-width="2.2" stroke-linejoin="round"/>
</g>
<rect x="475" y="481.5" width="125" height="15" fill="#fff"/>
</svg>

<div class="wmt">www&#183;ncfix&#183;com</div>
</body></html>
